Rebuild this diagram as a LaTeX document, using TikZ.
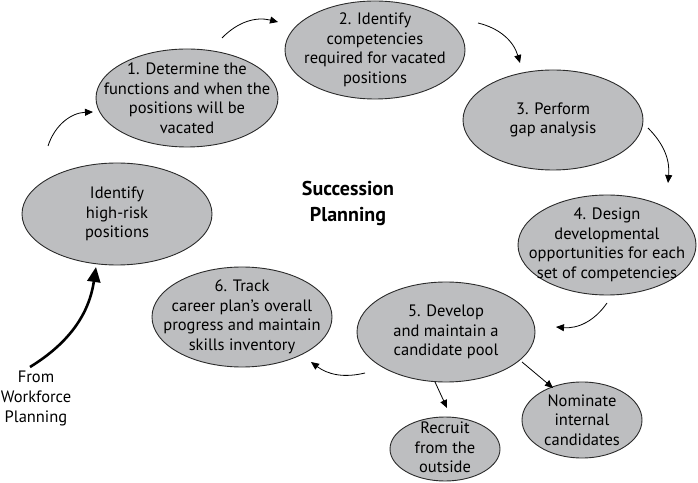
\documentclass[tikz,border=0pt]{standalone}
\usepackage{fontspec}
\setmainfont{PT Sans}
\usetikzlibrary{shapes.geometric,arrows.meta}
\definecolor{ellfill}{HTML}{BDBEC0}
\definecolor{ellline}{HTML}{2B2B2B}
\begin{document}
\begin{tikzpicture}[x=1pt,y=1pt,
  ell/.style={ellipse,draw=ellline,fill=ellfill,line width=0.9pt,inner sep=0pt},
  eltext/.style={align=center,inner sep=0pt,font=\fontsize{16.5}{19.5}\selectfont},
  flow/.style={line width=0.8pt,-{Triangle[length=8pt,width=7pt]}},
  lbl/.style={align=center,font=\fontsize{16.5}{20}\selectfont}]
\useasboundingbox (0,0) rectangle (698,482);
\node[ell,minimum width=190,minimum height=102,label={[eltext]center:Identify\\high-risk\\positions}] (hr) at (117,268) {};
\node[ell,minimum width=182,minimum height=98,label={[eltext]center:1. Determine the\\functions and when the\\positions will be\\vacated}] (n1) at (187,384) {};
\node[ell,minimum width=180,minimum height=98,label={[eltext]center:2. Identify\\competencies\\required for vacated\\positions}] (n2) at (375,432) {};
\node[ell,minimum width=180,minimum height=100,label={[eltext]center:3. Perform\\gap analysis}] (n3) at (553,362) {};
\node[ell,minimum width=178,minimum height=100,label={[eltext]center:4. Design\\developmental\\opportunities for each\\set of competencies}] (n4) at (607,237) {};
\node[ell,minimum width=178,minimum height=100,label={[eltext]center:5. Develop\\and maintain a\\candidate pool}] (n5) at (446,150) {};
\node[ell,minimum width=180,minimum height=100,label={[eltext]center:6. Track\\career plan’s overall\\progress and maintain\\skills inventory}] (n6) at (242,165) {};
\node[ell,minimum width=110,minimum height=64,label={[eltext,yshift=1.5pt]center:Recruit\\from the\\outside}] (rec) at (445,33) {};
\node[ell,minimum width=120,minimum height=76,label={[eltext]center:Nominate\\internal\\candidates}] (nom) at (582,62) {};
\node[align=center,font=\fontsize{20}{26}\selectfont\bfseries] (title) at (348,279) {Succession\\Planning};
\node[lbl] (from) at (36,84) {From\\Workforce\\Planning};
% arrow end points
\coordinate (a1) at (48,336); \coordinate (a2) at (93,370);
\coordinate (b1) at (222,444); \coordinate (b2) at (278,460);
\coordinate (c1) at (478,459); \coordinate (c2) at (520,419);
\coordinate (d1) at (648,354); \coordinate (d2) at (668,299);
\coordinate (e1) at (607,179); \coordinate (e2) at (556,155);
\coordinate (f1) at (365,109); \coordinate (f2) at (311,120);
\coordinate (g1) at (30,115); \coordinate (g2) at (96,215);
\coordinate (h1) at (435,100); \coordinate (h2) at (447,74);
\coordinate (i1) at (522,120); \coordinate (i2) at (553,94);
\draw[flow] (a1) to[bend left=35] (a2);
\draw[flow] (b1) to[bend left=30] (b2);
\draw[flow] (c1) to[bend left=30] (c2);
\draw[flow] (d1) to[bend left=25] (d2);
\draw[flow] (e1) to[bend left=30] (e2);
\draw[flow] (f1) to[bend left=25] (f2);
\draw[line width=2.6pt,-{Triangle[length=15pt,width=13pt]}] (g1) to[bend right=25] (g2);
\draw[flow] (h1) -- (h2);
\draw[flow] (i1) -- (i2);
\end{tikzpicture}
\end{document}
